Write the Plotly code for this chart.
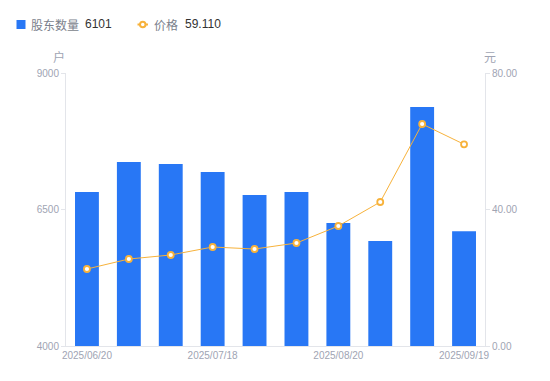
import plotly.graph_objects as go

dates = ["2025/06/20", "2025/06/30", "2025/07/10", "2025/07/18", "2025/07/31",
         "2025/08/10", "2025/08/20", "2025/08/31", "2025/09/10", "2025/09/19"]
holders = [6821, 7370, 7333, 7187, 6766, 6821, 6253, 5923, 8377, 6101]
prices = [22.56, 25.49, 26.67, 29.01, 28.42, 30.18, 35.16, 42.20, 65.05, 59.11]
tick_dates = ["2025/06/20", "2025/07/18", "2025/08/20", "2025/09/19"]
left_ticks = [4000, 6500, 9000]
right_ticks = [0, 40, 80]

BAR = "#2877F5"
LINE = "#F7B23B"
GRID = "#E3E5EA"
TICK = "#A0A4B3"
LABEL = "#7B7F8C"
VALUE = "#333333"
CJK = "Noto Sans CJK SC, Liberation Sans, Arial, sans-serif"
NUM = "Liberation Sans, Arial, sans-serif"

# page has 8px body margin; figure is offset by (8, 8)
W, H = 542, 373
ML, MR, MT, MB = 58, 65, 65, 35
PW, PH = W - ML - MR, H - MT - MB


def px(x):  # page x -> paper x
    return (x - 8 - ML) / PW


def py(y):  # page y -> paper y
    return (H - MB - (y - 8)) / PH


fig = go.Figure()
fig.add_trace(go.Bar(
    x=dates, y=holders, marker=dict(color=BAR, line=dict(width=0)),
    name="股东数量", yaxis="y",
))
fig.add_trace(go.Scatter(
    x=dates, y=prices, mode="lines+markers",
    line=dict(color=LINE, width=1),
    marker=dict(symbol="circle", size=6, color="white", line=dict(color=LINE, width=1.8)),
    name="价格", yaxis="y2",
))

tickfont = dict(size=10, color=TICK, family=NUM)

legend_shapes = [
    dict(type="rect", xref="paper", yref="paper", x0=px(16.5), x1=px(25.5),
         y0=py(29), y1=py(20), fillcolor=BAR, line=dict(width=0)),
    dict(type="line", xref="paper", yref="paper", x0=px(137.5), x1=px(148),
         y0=py(24.5), y1=py(24.5), line=dict(color=LINE, width=2)),
    dict(type="circle", xref="paper", yref="paper", x0=px(140), x1=px(145.5),
         y0=py(27.3), y1=py(21.7), fillcolor="white", line=dict(color=LINE, width=2)),
]


def ann(text, x, y, color, family, size=12, anchor="left"):
    return dict(text=text, xref="paper", yref="paper", x=px(x), y=py(y),
                showarrow=False, xanchor=anchor, yanchor="middle",
                font=dict(size=size, color=color, family=family), borderpad=0)


fig.update_layout(
    width=W, height=H,
    margin=dict(l=ML, r=MR, t=MT, b=MB, autoexpand=False),
    paper_bgcolor="white", plot_bgcolor="white",
    font=dict(family=CJK, size=11, color=TICK),
    bargap=0.43,
    showlegend=False,
    xaxis=dict(
        type="category", range=[-0.5, len(dates) - 0.5],
        tickmode="array", tickvals=tick_dates, ticktext=tick_dates,
        showline=True, linecolor=GRID, linewidth=1, ticks="", showgrid=False,
        tickfont=tickfont, zeroline=False, automargin=False,
    ),
    yaxis=dict(
        range=[4000, 9000], tickvals=left_ticks, ticktext=[str(v) for v in left_ticks],
        showline=True, linecolor=GRID, linewidth=1, ticks="outside", ticklen=4,
        tickcolor=GRID, showgrid=False, zeroline=False, tickfont=tickfont, automargin=False,
    ),
    yaxis2=dict(
        range=[0, 80], tickvals=right_ticks, ticktext=["%.2f" % v for v in right_ticks],
        overlaying="y", side="right",
        showline=True, linecolor=GRID, linewidth=1, ticks="outside", ticklen=4,
        tickcolor=GRID, showgrid=False, zeroline=False, tickfont=tickfont, automargin=False,
    ),
    shapes=legend_shapes,
    annotations=[
        ann("户", 59, 56, TICK, CJK, anchor="center"),
        ann("元", 490, 56, TICK, CJK, anchor="center"),
        ann("股东数量", 30, 24.5, LABEL, CJK),
        ann(str(holders[-1]), 84, 24.5, VALUE, NUM),
        ann("价格", 153, 24.5, LABEL, CJK),
        ann("%.3f" % prices[-1], 183.5, 24.5, VALUE, NUM),
    ],
)

fig.write_html("out.html")
